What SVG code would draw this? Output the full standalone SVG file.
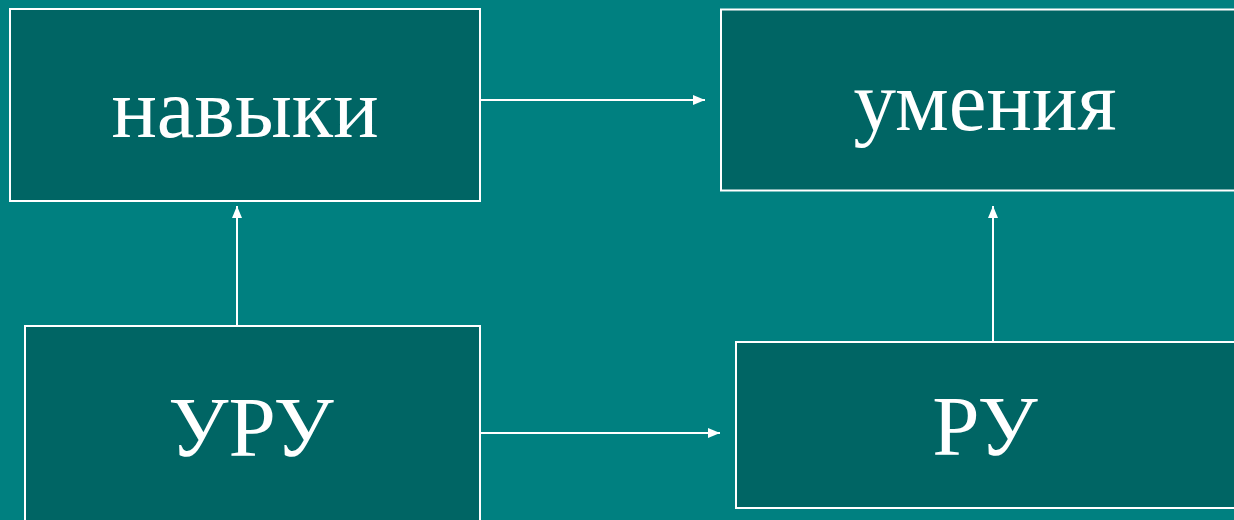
<svg xmlns="http://www.w3.org/2000/svg" width="1234" height="520" viewBox="0 0 1234 520">
<style>
.box{fill:#006564;stroke:#ffffff;stroke-width:2}
.lbl{font-family:"Liberation Serif","Times New Roman",serif;font-size:85px;fill:#ffffff;text-anchor:middle}
.conn{stroke:#ffffff;stroke-width:2;fill:none;marker-end:url(#ah)}
</style>
<defs>
<marker id="ah" viewBox="0 0 12 10" refX="12" refY="5" markerWidth="12" markerHeight="10" markerUnits="userSpaceOnUse" orient="auto">
<path d="M0,0 L12,5 L0,10 Z" fill="#ffffff"/>
</marker>
</defs>
<rect width="1234" height="520" fill="#008080"/>
<g id="connectors">
<line class="conn" x1="480" y1="100" x2="705" y2="100"/>
<line class="conn" x1="480" y1="433" x2="720" y2="433"/>
<line class="conn" x1="237" y1="326" x2="237" y2="206"/>
<line class="conn" x1="993" y1="342" x2="993" y2="206"/>
</g>
<g id="navyki">
<rect class="box" x="10" y="9" width="470" height="192"/>
<text class="lbl" x="245" y="137">навыки</text>
</g>
<g id="umeniya">
<rect class="box" x="721" y="9.5" width="530" height="181"/>
<text class="lbl" x="985" y="130">умения</text>
</g>
<g id="uru">
<rect class="box" x="25" y="326" width="455" height="210"/>
<text class="lbl" x="251" y="456">УРУ</text>
</g>
<g id="ru">
<rect class="box" x="736" y="342" width="515" height="166"/>
<text class="lbl" x="985" y="455">РУ</text>
</g>
</svg>
